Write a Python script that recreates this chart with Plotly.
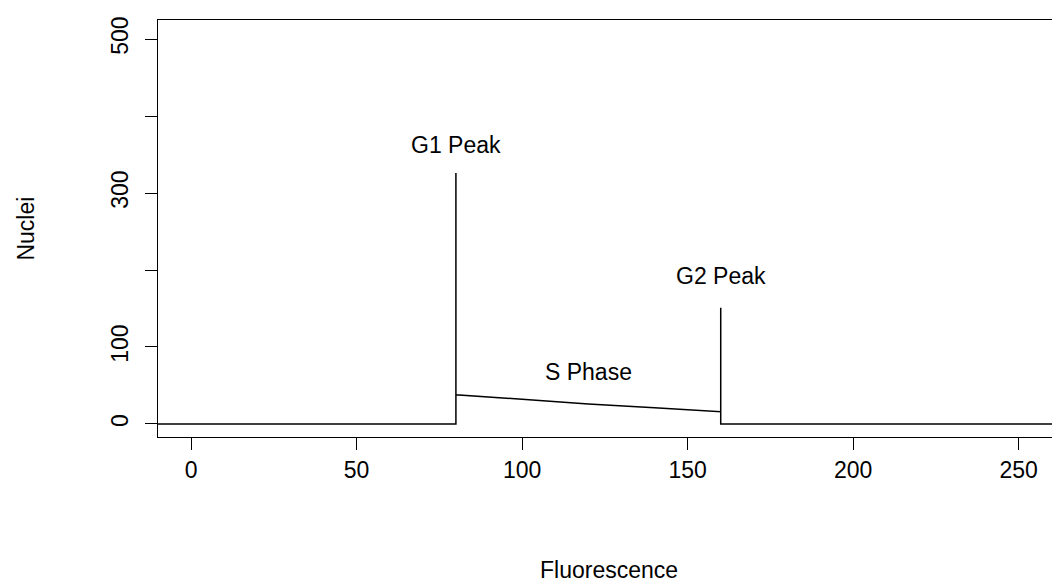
import plotly.graph_objects as go

# trace of the histogram outline
fluor = [-20, 80, 80, 80, 100, 120, 140, 160, 160, 160, 300]
nuclei = [0, 0, 326, 38, 32, 26, 21, 16, 151, 0, 0]

label_text = ["G1 Peak", "S Phase", "G2 Peak"]
label_x = [80, 120, 160]
label_y = [362, 67, 192]

y_ticks = [0, 100, 200, 300, 400, 500]
y_ticktext = ["0", "100", "", "300", "", "500"]
x_ticks = [0, 50, 100, 150, 200, 250]

fs = 23

fig = go.Figure()
fig.add_trace(go.Scatter(x=fluor, y=nuclei, mode="lines",
                         line=dict(color="black", width=1.5), showlegend=False))
for t, x, y in zip(label_text, label_x, label_y):
    fig.add_annotation(x=x, y=y, text=t, showarrow=False,
                       font=dict(size=fs, color="black"))

# axis titles placed by hand, like R's mtext lines
fig.add_annotation(x=0.5, xref="paper", y=-0.355, yref="paper", text="Fluorescence",
                   showarrow=False, font=dict(size=fs, color="black"))
fig.add_annotation(x=-0.164, xref="paper", y=0.5, yref="paper", text="Nuclei", textangle=-90,
                   showarrow=False, font=dict(size=fs, color="black"))

axis_style = dict(showline=True, linecolor="black", linewidth=1, mirror=True,
                  ticks="outside", ticklen=12, tickcolor="black",
                  showgrid=False, zeroline=False, automargin=False,
                  tickfont=dict(size=fs, color="black"))

fig.update_xaxes(range=[-10, 262.5], tickvals=x_ticks, ticklabelstandoff=0, **axis_style)
fig.update_yaxes(range=[-16.9, 524.7], tickvals=y_ticks, ticktext=y_ticktext, tickangle=-90,
                 ticklabelstandoff=8, **axis_style)

fig.update_layout(width=1060, height=586,
                  margin=dict(l=150, r=8, t=12, b=157, autoexpand=False),
                  plot_bgcolor="white", paper_bgcolor="white",
                  font=dict(family="Liberation Sans, Arial", color="black"))

fig.write_html("out.html")
